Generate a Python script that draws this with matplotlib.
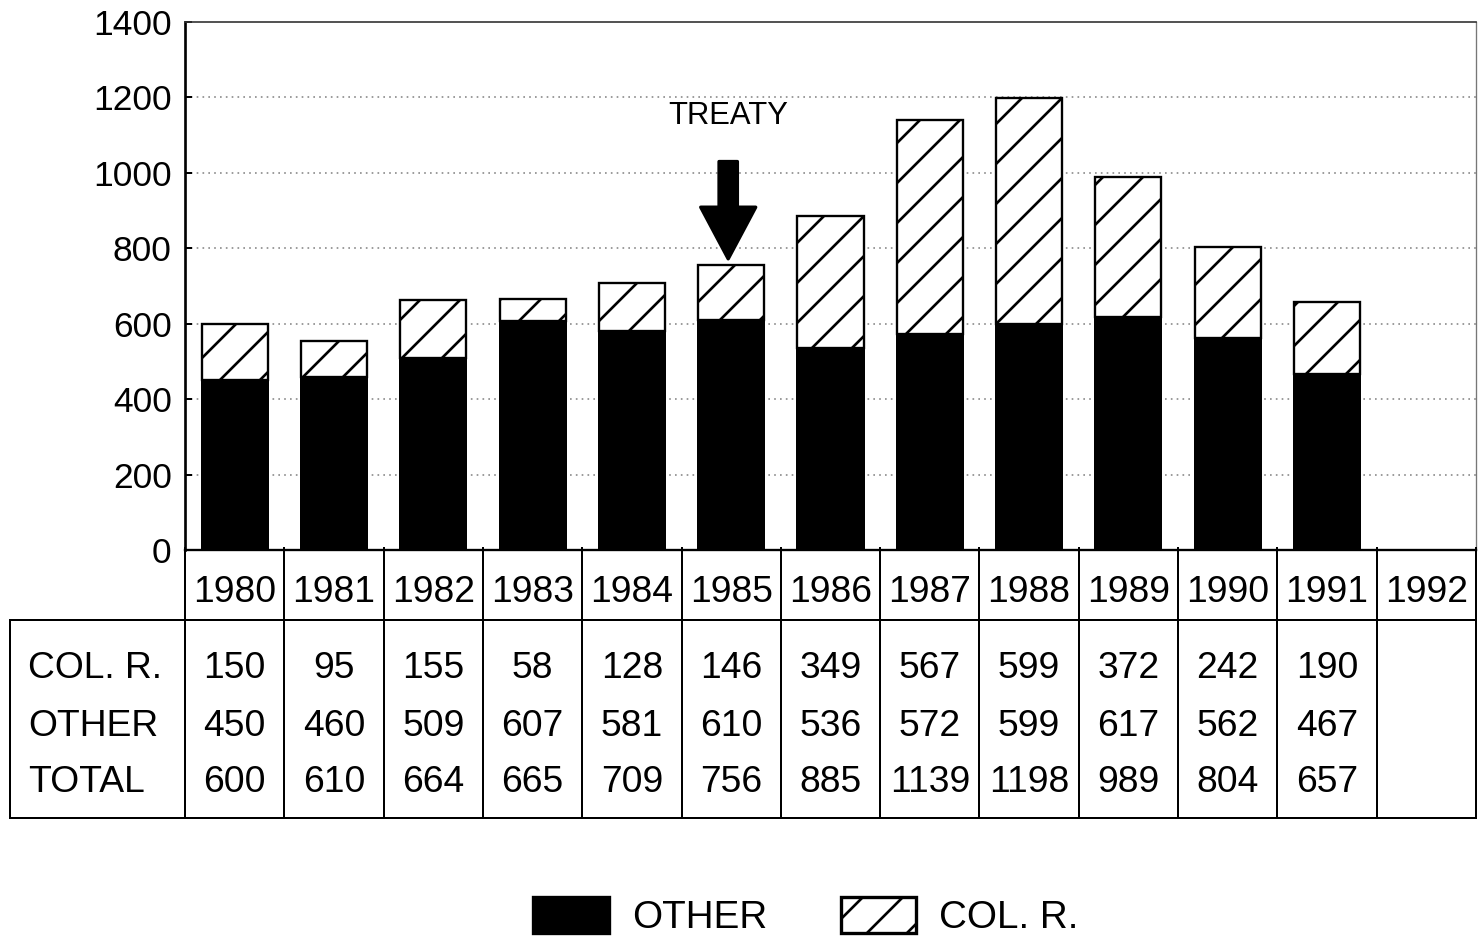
import numpy as np
import matplotlib
matplotlib.use("Agg")
import matplotlib.pyplot as plt
from matplotlib.patches import Patch

years = ["1980", "1981", "1982", "1983", "1984", "1985", "1986",
         "1987", "1988", "1989", "1990", "1991", "1992"]
col_r = [150, 95, 155, 58, 128, 146, 349, 567, 599, 372, 242, 190]
other = [450, 460, 509, 607, 581, 610, 536, 572, 599, 617, 562, 467]
total = [600, 610, 664, 665, 709, 756, 885, 1139, 1198, 989, 804, 657]
row_names = ["COL. R.", "OTHER", "TOTAL"]
yticks = [0, 200, 400, 600, 800, 1000, 1200, 1400]

DPI = 240
W, H = 1478, 940
plt.rcParams["font.family"] = ["Liberation Sans", "DejaVu Sans"]
plt.rcParams["hatch.linewidth"] = 0.8
plt.rcParams["hatch.color"] = "black"

fig = plt.figure(figsize=(W / DPI, H / DPI), dpi=DPI)
fig.patch.set_facecolor("white")

# main plot area (pixel box 185..1476 x 22..550)
ax = fig.add_axes([185 / W, (H - 550) / H, (1476 - 185) / W, (550 - 22) / H])
x = np.arange(len(col_r))
ax.bar(x, other, width=0.665, color="black", edgecolor="black", linewidth=0.6)
ax.bar(x, col_r, bottom=other, width=0.665, facecolor="white",
       edgecolor="black", linewidth=0.7, hatch="//")

ax.set_xlim(-0.5, len(years) - 0.5)
ax.set_ylim(0, 1400)
ax.set_yticks(yticks)
ax.set_xticks([])
ax.tick_params(axis="y", direction="in", length=2, width=0.6, pad=4,
               labelsize=10.6)
for g in yticks[1:-1]:
    ax.axhline(g, color="#8a8a8a", lw=0.5, ls=(0, (1, 2.5)), zorder=0)
ax.spines["left"].set_linewidth(0.8)
ax.spines["bottom"].set_linewidth(0.7)
ax.spines["top"].set_linewidth(0.5)
ax.spines["top"].set_color("#333333")
ax.spines["right"].set_linewidth(0.4)
ax.spines["right"].set_color("#777777")

# treaty marker
ax.text(4.97, 1150, "TREATY", ha="center", va="center", fontsize=9.3)
ax.annotate("", xy=(4.97, 772), xytext=(4.97, 1030),
            arrowprops=dict(arrowstyle="simple,head_width=1.65,head_length=1.55,tail_width=0.55",
                            fc="black", ec="black", shrinkA=0, shrinkB=0,
                            mutation_scale=10))

# data table under the plot (pixel rows 548..818)
tab = fig.add_axes([185 / W, (H - 818) / H, (1476 - 185) / W, 270 / H])
tab.set_xlim(-0.5, len(years) - 0.5)
tab.set_ylim(270, 0)
tab.axis("off")
left = -0.5 - 175 / 99.3
lw = 0.6
for k in range(len(years) + 1):
    tab.plot([k - 0.5, k - 0.5], [0, 270], color="black", lw=lw, clip_on=False)
tab.plot([left, len(years) - 0.5], [72, 72], color="black", lw=lw, clip_on=False)
tab.plot([left, len(years) - 0.5], [270, 270], color="black", lw=lw, clip_on=False)
tab.plot([left, left], [72, 270], color="black", lw=lw, clip_on=False)

for i, yr in enumerate(years):
    tab.text(i, 45, yr, ha="center", va="center", fontsize=11.2)
row_y = [120, 178, 235]
for name, vals, ry in zip(row_names, [col_r, other, total], row_y):
    tab.text(-0.5 - 157 / 99.3, ry, name, ha="left", va="center",
             fontsize=11.2, clip_on=False)
    for i, v in enumerate(vals):
        tab.text(i, ry, str(v), ha="center", va="center", fontsize=11.2)

# legend
handles = [Patch(facecolor="black", edgecolor="black", label="OTHER"),
           Patch(facecolor="white", edgecolor="black", hatch="//", label="COL. R.")]
fig.legend(handles=handles, loc="lower center", bbox_to_anchor=(806 / W, 0.0),
           ncol=2, frameon=False, fontsize=11.6, handlelength=1.95,
           handleheight=1.05, handletextpad=0.6, columnspacing=1.9,
           borderpad=0.1, borderaxespad=0.0)

fig.savefig("out.png", dpi=DPI, facecolor="white")
